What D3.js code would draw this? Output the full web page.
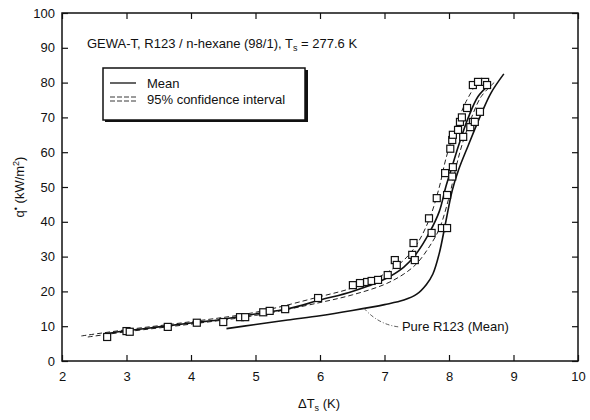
<!DOCTYPE html>
<html>
<head>
<meta charset="utf-8">
<script src="https://cdn.jsdelivr.net/npm/d3@7"></script>
<style>
  body { margin: 0; background: #fff; }
  text { font-family: "Liberation Sans", Arial, sans-serif; fill: #111; }
</style>
</head>
<body>
<div id="chart"></div>
<script>
// measured points, R123 / n-hexane (98/1)
const dataX = [2.70, 3.00, 3.05, 3.64, 4.09, 4.50, 4.76, 4.84, 5.12, 5.22, 5.46, 5.97, 6.51, 6.62, 6.73, 6.80, 6.90,
  7.05, 7.16, 7.19, 7.43, 7.47, 7.45, 7.69, 7.73, 7.81, 7.89, 7.97, 7.97, 7.94, 8.05, 8.06, 8.02, 8.05, 8.06, 8.22,
  8.14, 8.17, 8.20, 8.28, 8.37, 8.33, 8.40, 8.48, 8.37, 8.45, 8.56, 8.59];
const dataY = [6.9, 8.6, 8.4, 9.8, 11.0, 11.2, 12.6, 12.6, 14.0, 14.4, 14.9, 18.1, 21.8, 22.4, 22.7, 23.0, 23.3,
  24.7, 29.0, 27.6, 30.5, 29.0, 33.9, 41.0, 36.8, 46.8, 38.2, 38.2, 47.7, 54.0, 53.0, 55.7, 61.0, 63.5, 65.0, 64.4,
  66.4, 68.7, 70.0, 72.7, 68.7, 67.2, 68.7, 71.6, 79.3, 80.2, 80.2, 79.3];

// mean curve of the mixture
const meanX = [2.65, 3.0, 3.5, 4.0, 4.5, 5.0, 5.5, 6.0, 6.5, 7.0, 7.3, 7.5, 7.7, 7.85, 7.95, 8.05, 8.15, 8.3, 8.45, 8.6];
const meanY = [7.8, 8.7, 9.8, 10.9, 12.0, 13.5, 15.0, 17.5, 20.0, 23.5, 27.0, 31.0, 37.0, 43.0, 50.0, 56.0, 62.0, 70.0, 76.0, 79.0];

// 95% confidence interval, upper and lower
const upperX = [2.3, 3.0, 4.0, 5.0, 6.0, 6.5, 7.0, 7.3, 7.5, 7.7, 7.85, 7.95, 8.1, 8.25, 8.4];
const upperY = [7.2, 9.0, 11.3, 14.0, 18.5, 21.0, 25.0, 29.0, 33.5, 41.0, 50.0, 58.0, 67.0, 74.0, 79.0];
const lowerX = [2.4, 3.0, 4.0, 5.0, 6.0, 6.5, 7.0, 7.3, 7.5, 7.7, 7.85, 8.0, 8.1, 8.2, 8.35, 8.5, 8.7];
const lowerY = [6.9, 8.4, 10.6, 13.1, 16.8, 19.0, 22.0, 25.0, 28.0, 33.0, 38.0, 47.0, 55.0, 62.0, 70.0, 76.0, 80.0];

// pure R123 mean curve
const pureX = [4.55, 5.0, 5.5, 6.0, 6.5, 7.0, 7.3, 7.5, 7.65, 7.75, 7.85, 7.95, 8.05, 8.15, 8.3, 8.5, 8.65, 8.85];
const pureY = [9.3, 10.5, 11.8, 13.0, 14.5, 16.2, 17.5, 19.2, 22.0, 25.0, 31.0, 40.0, 49.0, 55.0, 62.0, 71.0, 77.0, 82.5];

const xTicks = [2, 3, 4, 5, 6, 7, 8, 9, 10];
const yTicks = [0, 10, 20, 30, 40, 50, 60, 70, 80, 90, 100];

const W = 590, H = 420;
const margin = {top: 13, right: 12, bottom: 59, left: 62};
const width = W - margin.left - margin.right,
      height = H - margin.top - margin.bottom;

const svg = d3.select("#chart").append("svg")
    .attr("width", W)
    .attr("height", H);

const g = svg.append("g")
    .attr("transform", `translate(${margin.left},${margin.top})`);

const x = d3.scaleLinear().domain([2, 10]).range([0, width]);
const y = d3.scaleLinear().domain([0, 100]).range([height, 0]);

const zip = (xs, ys) => xs.map((v, i) => [v, ys[i]]);
const line = d3.line().x(d => x(d[0])).y(d => y(d[1])).curve(d3.curveCatmullRom.alpha(0.5));

// frame
g.append("rect")
    .attr("width", width).attr("height", height)
    .attr("fill", "none").attr("stroke", "#111").attr("stroke-width", 1.5);

// axes, ticks inward
const axL = g.append("g").call(d3.axisLeft(y).tickValues(yTicks).tickSize(-6).tickPadding(7));
const axB = g.append("g").attr("transform", `translate(0,${height})`)
    .call(d3.axisBottom(x).tickValues(xTicks).tickSize(-6).tickPadding(11));
g.append("g").call(d3.axisTop(x).tickValues(xTicks).tickSize(-6).tickFormat(""));
g.append("g").attr("transform", `translate(${width},0)`)
    .call(d3.axisRight(y).tickValues(yTicks).tickSize(-6).tickFormat(""));
g.selectAll(".domain").remove();
g.selectAll(".tick line").attr("stroke", "#111").attr("stroke-width", 1.2);
g.selectAll(".tick text").style("font-size", "13px").attr("fill", "#111");

// confidence interval
[zip(upperX, upperY), zip(lowerX, lowerY)].forEach(pts => {
  g.append("path").datum(pts).attr("d", line)
      .attr("fill", "none").attr("stroke", "#222")
      .attr("stroke-width", 1).attr("stroke-dasharray", "5,3");
});

// mean lines
g.append("path").datum(zip(meanX, meanY)).attr("d", line)
    .attr("fill", "none").attr("stroke", "#111").attr("stroke-width", 1.6);
g.append("path").datum(zip(pureX, pureY)).attr("d", line)
    .attr("fill", "none").attr("stroke", "#111").attr("stroke-width", 1.6);

// data squares
const s = 7;
g.append("g").selectAll("rect")
    .data(zip(dataX, dataY))
    .join("rect")
    .attr("x", d => x(d[0]) - s / 2)
    .attr("y", d => y(d[1]) - s / 2)
    .attr("width", s).attr("height", s)
    .attr("fill", "#fff").attr("stroke", "#111").attr("stroke-width", 1.2);

// pure R123 label with leader
g.append("path")
    .attr("d", `M${x(6.68)},${y(15.2)} Q${x(6.9)},${y(10.5)} ${x(7.22)},${y(9.8)}`)
    .attr("fill", "none").attr("stroke", "#333").attr("stroke-width", 0.8)
    .attr("stroke-dasharray", "4,2,1,2");
g.append("text")
    .attr("x", x(7.27)).attr("y", y(9.8))
    .attr("dy", "0.35em")
    .style("font-size", "13px")
    .text("Pure R123 (Mean)");

// title
const title = g.append("text")
    .attr("x", 25).attr("y", 35)
    .style("font-size", "13px");
title.append("tspan").text("GEWA-T, R123 / n-hexane (98/1), T");
title.append("tspan").attr("dy", 3).style("font-size", "9px").text("s");
title.append("tspan").attr("dy", -3).text(" = 277.6 K");

// legend
const lg = g.append("g").attr("transform", "translate(41,55)");
lg.append("rect").attr("x", 2).attr("y", 2).attr("width", 203).attr("height", 52).attr("fill", "#111");
lg.append("rect").attr("width", 202).attr("height", 52)
    .attr("fill", "#fff").attr("stroke", "#111").attr("stroke-width", 1.5);
lg.append("line").attr("x1", 7).attr("x2", 33).attr("y1", 15).attr("y2", 15)
    .attr("stroke", "#111").attr("stroke-width", 1.3);
lg.append("text").attr("x", 44).attr("y", 15).attr("dy", "0.35em").style("font-size", "13px").text("Mean");
[29, 33].forEach(yy => {
  lg.append("line").attr("x1", 7).attr("x2", 33).attr("y1", yy).attr("y2", yy)
      .attr("stroke", "#222").attr("stroke-width", 0.9).attr("stroke-dasharray", "5,2");
});
lg.append("text").attr("x", 44).attr("y", 31).attr("dy", "0.35em").style("font-size", "13px").text("95% confidence interval");

// axis titles
const yl = svg.append("text")
    .attr("transform", "translate(24,187) rotate(-90)")
    .attr("text-anchor", "middle")
    .style("font-size", "13px");
yl.append("tspan").text("q");
yl.append("tspan").attr("dy", -5).style("font-size", "9px").text("•");
yl.append("tspan").attr("dy", 5).text(" (kW/m");
yl.append("tspan").attr("dy", -5).style("font-size", "9px").text("2");
yl.append("tspan").attr("dy", 5).text(")");

const xl = svg.append("text")
    .attr("x", 319).attr("y", 408)
    .attr("text-anchor", "middle")
    .style("font-size", "13px");
xl.append("tspan").text("ΔT");
xl.append("tspan").attr("dy", 3).style("font-size", "9px").text("s");
xl.append("tspan").attr("dy", -3).text(" (K)");
</script>
</body>
</html>
